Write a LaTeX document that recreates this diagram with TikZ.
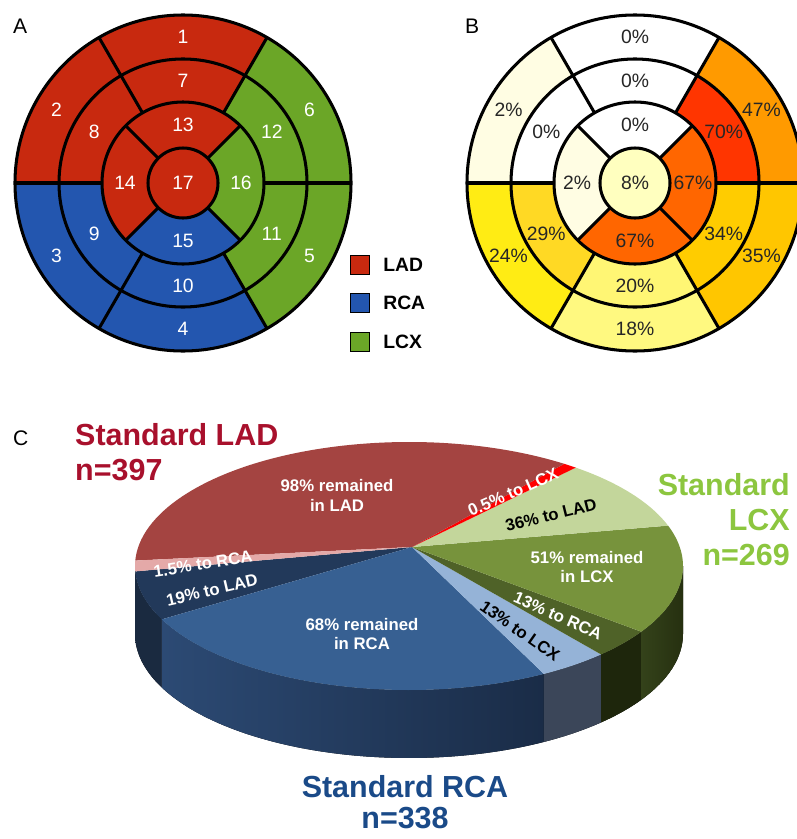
\documentclass[tikz,border=0pt]{standalone}
\usepackage{fontspec}
\setmainfont{Liberation Sans}
\usetikzlibrary{positioning}

\definecolor{ladred}{HTML}{C8290F}
\definecolor{rcablue}{HTML}{2356AF}
\definecolor{lcxgreen}{HTML}{6BA627}
\definecolor{bcream}{HTML}{FFFDE3}
\definecolor{b8}{HTML}{FFFFBF}
\definecolor{b18}{HTML}{FFF980}
\definecolor{b20}{HTML}{FFF674}
\definecolor{b24}{HTML}{FFEC14}
\definecolor{b29}{HTML}{FFD924}
\definecolor{b34}{HTML}{FFCC00}
\definecolor{b35}{HTML}{FFC600}
\definecolor{b47}{HTML}{FF9A00}
\definecolor{b67}{HTML}{FF6600}
\definecolor{b70}{HTML}{FF3500}
\definecolor{ladtitle}{HTML}{A8102C}
\definecolor{rcatitle}{HTML}{1A4A88}
\definecolor{lcxtitle}{HTML}{8CC63F}
\definecolor{pieLAD}{HTML}{A44441}
\definecolor{piepink}{HTML}{E4A9A8}
\definecolor{pieRCA}{HTML}{376092}
\definecolor{pienavy}{HTML}{22395A}
\definecolor{piepale}{HTML}{95B3D7}
\definecolor{pieLCX}{HTML}{77933C}
\definecolor{pielight}{HTML}{C3D69B}
\definecolor{piedark}{HTML}{4F6228}
\definecolor{sidenavy}{HTML}{1A2A40}
\definecolor{sideblue}{HTML}{2C4A74}
\definecolor{sidebluedk}{HTML}{1A2C47}
\definecolor{sidepale}{HTML}{3B4659}
\definecolor{sidedark}{HTML}{1E260C}
\definecolor{sideolive}{HTML}{34421A}
\definecolor{sideolivedk}{HTML}{263010}

\begin{document}
\begin{tikzpicture}[x=0.03cm,y=-0.03cm,
    ring/.style={line width=2.6pt,black},
    seglabel/.style={font=\fontsize{16.5}{18}\selectfont,inner sep=0pt},
    key/.style={draw,line width=1pt,minimum size=0.57cm,inner sep=0pt},
    keytext/.style={font=\bfseries\fontsize{16.5}{18}\selectfont,inner sep=0pt},
    panel/.style={font=\fontsize{18}{20}\selectfont,inner sep=0pt,anchor=base west},
    title/.style={font=\bfseries\fontsize{26}{30}\selectfont,inner sep=0pt},
    pielabel/.style={font=\bfseries\fontsize{14.3}{17}\selectfont,text=white,inner sep=0pt,align=center}]
\useasboundingbox (0,0) rectangle (797,839);

\node at (13,33) [panel] (panA) {A};
\node at (465,33) [panel] (panB) {B};
\node at (13,445) [panel] (panC) {C};

% bullseyes: segment / angles / radii / colour in A / colour in B / value in B
\foreach \s/\st/\en/\ri/\ro/\ca/\cb/\val in {
    1/60/120/124/168/ladred/white/0, 2/120/180/124/168/ladred/bcream/2,
    3/180/240/124/168/rcablue/b24/24, 4/240/300/124/168/rcablue/b18/18,
    5/300/360/124/168/lcxgreen/b35/35, 6/0/60/124/168/lcxgreen/b47/47,
    7/60/120/81/124/ladred/white/0, 8/120/180/81/124/ladred/white/0,
    9/180/240/81/124/rcablue/b29/29, 10/240/300/81/124/rcablue/b20/20,
    11/300/360/81/124/lcxgreen/b34/34, 12/0/60/81/124/lcxgreen/b70/70,
    13/45/135/35/81/ladred/white/0, 14/135/225/35/81/ladred/bcream/2,
    15/225/315/35/81/rcablue/b67/67, 16/-45/45/35/81/lcxgreen/b67/67}
{
  \begin{scope}[shift={(183,183)},y=0.03cm]
    \fill[\ca] (\st:\ri) arc[start angle=\st,end angle=\en,radius=\ri] -- (\en:\ro) arc[start angle=\en,end angle=\st,radius=\ro] -- cycle;
    \node at ({(\st+\en)/2}:{(\ri+\ro)/2}) [seglabel,text=white] (a\s) {\s};
  \end{scope}
  \begin{scope}[shift={(635,183)},y=0.03cm]
    \fill[\cb] (\st:\ri) arc[start angle=\st,end angle=\en,radius=\ri] -- (\en:\ro) arc[start angle=\en,end angle=\st,radius=\ro] -- cycle;
    \node at ({(\st+\en)/2}:{(\ri+\ro)/2}) [seglabel,text=black!85] (b\s) {\val\%};
  \end{scope}
}
\fill[ladred] (183,183) circle[radius=35];
\node at (183,183) [seglabel,text=white] (a17) {17};
\fill[b8] (635,183) circle[radius=35];
\node at (635,183) [seglabel,text=black!85] (b17) {8\%};

\foreach \cx in {183,635}{
  \begin{scope}[shift={(\cx,183)},y=0.03cm]
    \foreach \r in {35,81,124,168}
      \draw[ring] (0,0) circle[radius=\r];
    \foreach \t in {0,60,...,300}
      \draw[ring] (\t:81) -- (\t:168);
    \foreach \t in {45,135,225,315}
      \draw[ring] (\t:35) -- (\t:81);
  \end{scope}
}

% legend
\node at (360,265) [key,fill=ladred] (kLAD) {};
\node at (360,303) [key,fill=rcablue] (kRCA) {};
\node at (360,342) [key,fill=lcxgreen] (kLCX) {};
\node [keytext,right=0.39cm of kLAD] (tLAD) {LAD};
\node [keytext,right=0.39cm of kRCA] (tRCA) {RCA};
\node [keytext,right=0.39cm of kLCX] (tLCX) {LCX};

% 3D pie
\begin{scope}[shift={(409,566)},y=0.03cm]
  \coordinate (apex) at (3,19);
  \foreach \st/\en/\cl/\cr in {180/205.5/sidenavy/sidenavy, 205.5/299.5/sideblue/sidebluedk,
      299.5/314.5/sidepale/sidepale, 314.5/328/sidedark/sidedark, 328/360/sideolive/sideolivedk}
    \fill[left color=\cl,right color=\cr] (\st:274 and 124) arc[start angle=\st,end angle=\en,x radius=274,y radius=124]
      -- ++(0,-68) arc[start angle=\en,end angle=\st,x radius=274,y radius=124] -- cycle;
  \foreach \st/\en/\c in {182.5/205.5/pienavy, 205.5/299.5/pieRCA, 299.5/314.5/piepale,
      314.5/328/piedark, 328/379/pieLCX, 19/52.5/pielight, 52.5/55.5/red,
      55.5/177.5/pieLAD, 177.5/182.5/piepink}
    \fill[\c] (apex) -- (\st:274 and 124) arc[start angle=\st,end angle=\en,x radius=274,y radius=124] -- cycle;
\end{scope}

\node at (337,495) [pielabel] (lad98) {98\% remained\\in LAD};
\node at (203,564) [pielabel,rotate=9] (lad15) {1.5\% to RCA};
\node at (513,492) [pielabel,rotate=24] (lad05) {0.5\% to LCX};
\node at (362,634) [pielabel] (rca68) {68\% remained\\in RCA};
\node at (212,590) [pielabel,rotate=13] (rca19) {19\% to LAD};
\node at (520,631) [pielabel,text=black,rotate=-35] (rca13) {13\% to LCX};
\node at (587,567) [pielabel] (lcx51) {51\% remained\\in LCX};
\node at (551,515) [pielabel,text=black,rotate=14] (lcx36) {36\% to LAD};
\node at (558,616) [pielabel,rotate=-24] (lcx13) {13\% to RCA};

\node at (75,423) [title,text=ladtitle,anchor=north west,align=left] (ladT) {Standard LAD\\n=397};
\node at (790,473) [title,text=lcxtitle,anchor=north east,align=right] (lcxT) {Standard\\LCX\\n=269};
\node at (405,775) [title,text=rcatitle,anchor=north,align=center,font=\bfseries\fontsize{26}{26.5}\selectfont] (rcaT) {Standard RCA\\n=338};
\end{tikzpicture}
\end{document}
